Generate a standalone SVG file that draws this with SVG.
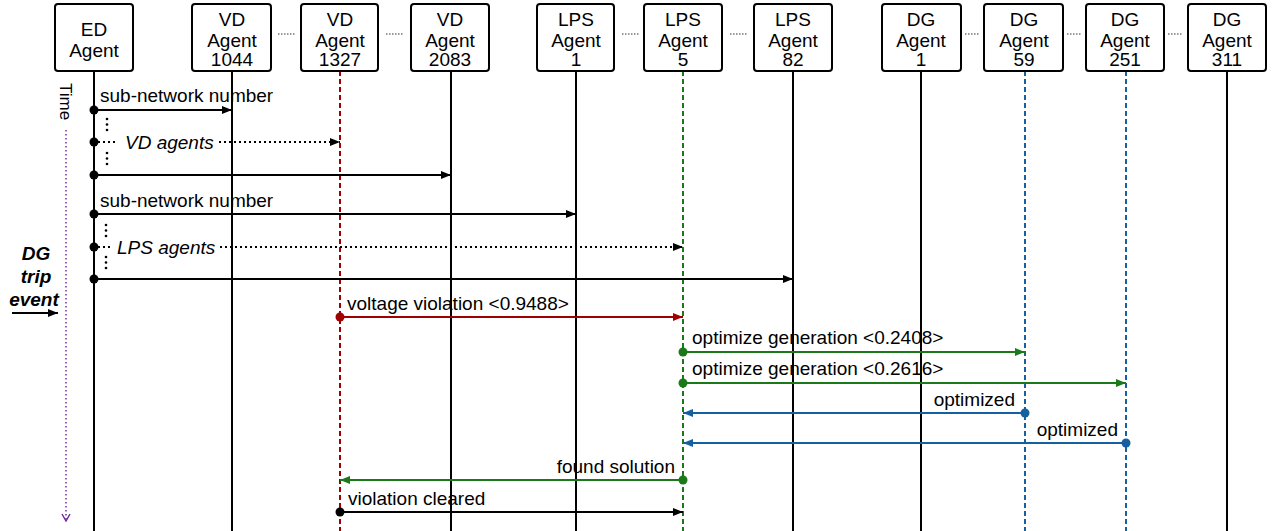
<svg xmlns="http://www.w3.org/2000/svg" width="1276" height="531" viewBox="0 0 1276 531">
<defs>
<style>
.box{fill:#fff;stroke:#000;stroke-width:2}
.bt{font-family:"Liberation Sans",Arial,sans-serif;font-size:19px;text-anchor:middle;fill:#000}
.lbl{font-family:"Liberation Sans",Arial,sans-serif;font-size:19px;fill:#000}
.it{font-style:italic}
.life{stroke:#000;stroke-width:2;fill:none}
.sep{stroke:#333;stroke-width:1.2;stroke-dasharray:1.5,1.5}
.m{stroke-width:2;fill:none}
.k{stroke:#000}
.r{stroke:#a00000}
.g{stroke:#1a7a1a}
.b{stroke:#1560a0}
.dot{stroke-dasharray:2,3}
.vd{fill:#000}
</style>
<marker id="ak" viewBox="0 0 10 8" refX="10" refY="4" markerWidth="10" markerHeight="8" markerUnits="userSpaceOnUse" orient="auto"><path d="M0,0L10,4L0,8z" fill="#000"/></marker>
<marker id="ar" viewBox="0 0 10 8" refX="10" refY="4" markerWidth="10" markerHeight="8" markerUnits="userSpaceOnUse" orient="auto"><path d="M0,0L10,4L0,8z" fill="#a00000"/></marker>
<marker id="ag" viewBox="0 0 10 8" refX="10" refY="4" markerWidth="10" markerHeight="8" markerUnits="userSpaceOnUse" orient="auto"><path d="M0,0L10,4L0,8z" fill="#1a7a1a"/></marker>
<marker id="ab" viewBox="0 0 10 8" refX="10" refY="4" markerWidth="10" markerHeight="8" markerUnits="userSpaceOnUse" orient="auto"><path d="M0,0L10,4L0,8z" fill="#1560a0"/></marker>
<marker id="ap" viewBox="0 0 10 10" refX="5" refY="9" markerWidth="10" markerHeight="10" markerUnits="userSpaceOnUse" orient="0"><path d="M1,2L5,9L9,2" fill="none" stroke="#7030a0" stroke-width="1.5"/></marker>
</defs>

<g id="lifelines">
<line class="life" x1="94" y1="71" x2="94" y2="531"/>
<line class="life" x1="232" y1="71" x2="232" y2="531"/>
<line class="life" x1="340" y1="71" x2="340" y2="531" stroke="#a00000" style="stroke:#a00000;stroke-dasharray:5,3"/>
<line class="life" x1="451" y1="71" x2="451" y2="531"/>
<line class="life" x1="576" y1="71" x2="576" y2="531"/>
<line class="life" x1="683" y1="71" x2="683" y2="531" style="stroke:#1a7a1a;stroke-dasharray:5,3"/>
<line class="life" x1="793" y1="71" x2="793" y2="531"/>
<line class="life" x1="921" y1="71" x2="921" y2="531"/>
<line class="life" x1="1025" y1="71" x2="1025" y2="531" style="stroke:#1560a0;stroke-dasharray:5,3"/>
<line class="life" x1="1126" y1="71" x2="1126" y2="531" style="stroke:#1560a0;stroke-dasharray:5,3"/>
<line class="life" x1="1227" y1="71" x2="1227" y2="531"/>
</g>

<g id="ed"><rect class="box" x="55" y="4" width="78" height="67" rx="3"/><text class="bt" x="94" y="36">ED</text><text class="bt" x="94" y="57">Agent</text></g>
<g id="vd1044"><rect class="box" x="192" y="4" width="79" height="67" rx="3"/><text class="bt" x="232" y="26">VD</text><text class="bt" x="232" y="47">Agent</text><text class="bt" x="232" y="66">1044</text></g>
<g id="vd1327"><rect class="box" x="301" y="4" width="77" height="67" rx="3"/><text class="bt" x="340" y="26">VD</text><text class="bt" x="340" y="47">Agent</text><text class="bt" x="340" y="66">1327</text></g>
<g id="vd2083"><rect class="box" x="411" y="4" width="78" height="67" rx="3"/><text class="bt" x="450" y="26">VD</text><text class="bt" x="450" y="47">Agent</text><text class="bt" x="450" y="66">2083</text></g>
<g id="lps1"><rect class="box" x="537" y="4" width="77" height="67" rx="3"/><text class="bt" x="576" y="26">LPS</text><text class="bt" x="576" y="47">Agent</text><text class="bt" x="576" y="66">1</text></g>
<g id="lps5"><rect class="box" x="644" y="4" width="78" height="67" rx="3"/><text class="bt" x="683" y="26">LPS</text><text class="bt" x="683" y="47">Agent</text><text class="bt" x="683" y="66">5</text></g>
<g id="lps82"><rect class="box" x="754" y="4" width="78" height="67" rx="3"/><text class="bt" x="793" y="26">LPS</text><text class="bt" x="793" y="47">Agent</text><text class="bt" x="793" y="66">82</text></g>
<g id="dg1"><rect class="box" x="882" y="4" width="79" height="67" rx="3"/><text class="bt" x="921" y="26">DG</text><text class="bt" x="921" y="47">Agent</text><text class="bt" x="921" y="66">1</text></g>
<g id="dg59"><rect class="box" x="984" y="4" width="79" height="67" rx="3"/><text class="bt" x="1024" y="26">DG</text><text class="bt" x="1024" y="47">Agent</text><text class="bt" x="1024" y="66">59</text></g>
<g id="dg251"><rect class="box" x="1086" y="4" width="78" height="67" rx="3"/><text class="bt" x="1125" y="26">DG</text><text class="bt" x="1125" y="47">Agent</text><text class="bt" x="1125" y="66">251</text></g>
<g id="dg311"><rect class="box" x="1188" y="4" width="78" height="67" rx="3"/><text class="bt" x="1227" y="26">DG</text><text class="bt" x="1227" y="47">Agent</text><text class="bt" x="1227" y="66">311</text></g>

<g id="separators">
<line class="sep" x1="278" y1="34" x2="295" y2="34"/>
<line class="sep" x1="386" y1="34" x2="403" y2="34"/>
<line class="sep" x1="622" y1="34" x2="639" y2="34"/>
<line class="sep" x1="730" y1="34" x2="747" y2="34"/>
<line class="sep" x1="965" y1="34" x2="980" y2="34"/>
<line class="sep" x1="1067" y1="34" x2="1082" y2="34"/>
<line class="sep" x1="1168" y1="34" x2="1183" y2="34"/>
</g>

<g id="time">
<text class="lbl" font-size="17" style="font-size:17px" transform="translate(60,83) rotate(90)">Time</text>
<line x1="66" y1="130" x2="66" y2="521" stroke="#7030a0" stroke-width="1.5" stroke-dasharray="1.5,2.5" marker-end="url(#ap)"/>
</g>

<g id="trip">
<text class="lbl" text-anchor="middle" style="font-weight:bold;font-style:italic" x="36" y="260">DG</text>
<text class="lbl" text-anchor="middle" style="font-weight:bold;font-style:italic" x="36" y="283">trip</text>
<text class="lbl" text-anchor="middle" style="font-weight:bold;font-style:italic" x="34" y="306">event</text>
<line x1="12" y1="313" x2="58" y2="313" stroke="#000" stroke-width="2" marker-end="url(#ak)"/>
</g>

<g id="connectors">
<circle class="vd" cx="94" cy="110" r="4.5"/>
<line class="m k" x1="94" y1="110" x2="232" y2="110" marker-end="url(#ak)"/>
<text class="lbl" x="100" y="102">sub-network number</text>
<circle class="vd" cx="107" cy="119" r="1.3"/><circle class="vd" cx="107" cy="124.5" r="1.3"/><circle class="vd" cx="107" cy="130" r="1.3"/>
<circle class="vd" cx="94" cy="142" r="4.5"/>
<line class="m k dot" x1="98" y1="142" x2="117" y2="142"/>
<text class="lbl it" x="125" y="149">VD agents</text>
<line class="m k dot" x1="219" y1="142" x2="340" y2="142" marker-end="url(#ak)"/>
<circle class="vd" cx="107" cy="153" r="1.3"/><circle class="vd" cx="107" cy="158.5" r="1.3"/><circle class="vd" cx="107" cy="164" r="1.3"/>
<circle class="vd" cx="94" cy="175" r="4.5"/>
<line class="m k" x1="94" y1="175" x2="451" y2="175" marker-end="url(#ak)"/>

<circle class="vd" cx="94" cy="214" r="4.5"/>
<line class="m k" x1="94" y1="214" x2="576" y2="214" marker-end="url(#ak)"/>
<text class="lbl" x="100" y="207">sub-network number</text>
<circle class="vd" cx="106" cy="225" r="1.3"/><circle class="vd" cx="106" cy="230.5" r="1.3"/><circle class="vd" cx="106" cy="236" r="1.3"/>
<circle class="vd" cx="94" cy="247" r="4.5"/>
<line class="m k dot" x1="98" y1="247" x2="112" y2="247"/>
<text class="lbl it" x="117" y="254">LPS agents</text>
<line class="m k dot" x1="220" y1="247" x2="683" y2="247" marker-end="url(#ak)"/>
<circle class="vd" cx="106" cy="257" r="1.3"/><circle class="vd" cx="106" cy="262.5" r="1.3"/><circle class="vd" cx="106" cy="268" r="1.3"/>
<circle class="vd" cx="94" cy="279" r="4.5"/>
<line class="m k" x1="94" y1="279" x2="793" y2="279" marker-end="url(#ak)"/>

<circle cx="340" cy="317" r="4.5" fill="#a00000"/>
<line class="m r" x1="340" y1="317" x2="683" y2="317" marker-end="url(#ar)"/>
<text class="lbl" x="347" y="310">voltage violation &lt;0.9488&gt;</text>

<circle cx="683" cy="352" r="4.5" fill="#1a7a1a"/>
<line class="m g" x1="683" y1="352" x2="1025" y2="352" marker-end="url(#ag)"/>
<text class="lbl" x="692" y="344">optimize generation &lt;0.2408&gt;</text>

<circle cx="683" cy="383" r="4.5" fill="#1a7a1a"/>
<line class="m g" x1="683" y1="383" x2="1126" y2="383" marker-end="url(#ag)"/>
<text class="lbl" x="692" y="375">optimize generation &lt;0.2616&gt;</text>

<circle cx="1025" cy="413" r="4.5" fill="#1560a0"/>
<line class="m b" x1="1025" y1="413" x2="683" y2="413" marker-end="url(#ab)"/>
<text class="lbl" text-anchor="end" x="1015" y="406">optimized</text>

<circle cx="1126" cy="443" r="4.5" fill="#1560a0"/>
<line class="m b" x1="1126" y1="443" x2="683" y2="443" marker-end="url(#ab)"/>
<text class="lbl" text-anchor="end" x="1118" y="436">optimized</text>

<circle cx="683" cy="480" r="4.5" fill="#1a7a1a"/>
<line class="m g" x1="683" y1="480" x2="340" y2="480" marker-end="url(#ag)"/>
<text class="lbl" text-anchor="end" x="675" y="473">found solution</text>

<circle class="vd" cx="340" cy="512" r="4.5"/>
<line class="m k" x1="340" y1="512" x2="683" y2="512" marker-end="url(#ak)"/>
<text class="lbl" x="348" y="505">violation cleared</text>
</g>
</svg>
